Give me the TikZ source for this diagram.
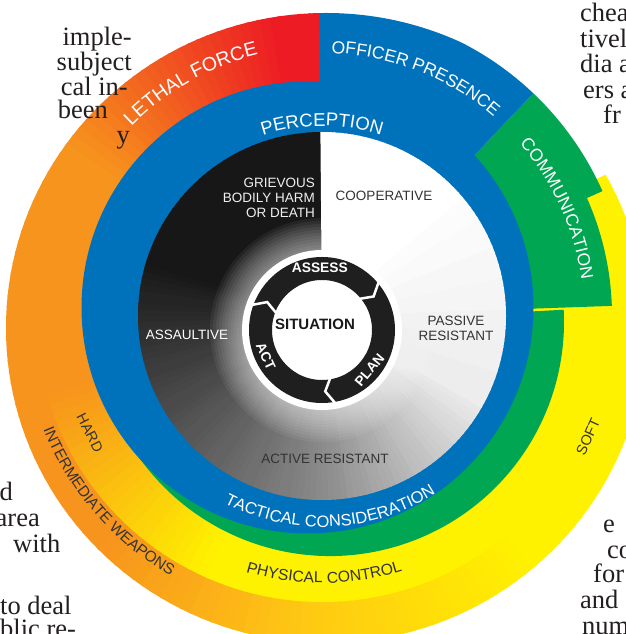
\documentclass[tikz,border=0pt]{standalone}
\usepackage{fontspec}
\setmainfont{Liberation Serif}
\setsansfont{Liberation Sans}
\usetikzlibrary{calc,decorations.text}

\definecolor{opblue}{RGB}{0,114,188}
\definecolor{comgreen}{RGB}{0,166,81}
\definecolor{inkgrey}{RGB}{51,51,51}
\definecolor{pageink}{RGB}{35,31,32}

\tikzset{
  pagetext/.style={font=\fontsize{26.5}{25}\selectfont, text=pageink, inner sep=0pt},
  disctext/.style={font=\sffamily\fontsize{13.5}{15}\selectfont, inner sep=0pt, align=center},
  bandtext/.style={font=\sffamily\fontsize{14.5}{14.5}\selectfont, text=inkgrey, inner sep=0pt},
  cycletext/.style={font=\sffamily\bfseries\fontsize{13.8}{13.8}\selectfont, text=white, inner sep=0pt},
}

\begin{document}
\begin{tikzpicture}[x=1pt, y=1pt]
\useasboundingbox (0,0) rectangle (625,634);
\fill[white] (0,0) rectangle (625,634);

\coordinate (c) at (322,318);      % subject disc
\coordinate (b) at (307.5,326.5);  % perception ring
\coordinate (g) at (330,312);      % communication ring
\coordinate (o) at (326,306);      % outer rim
\coordinate (k) at (322,304);      % assess-plan-act

% response bands
\begin{scope}
  \clip (o) ellipse [x radius=320, y radius=315];
  \foreach \a in {-270,-268,...,24} {
    \pgfmathsetmacro\tRed{max(0,min(1,(\a+262)/47))}
    \pgfmathsetmacro\tOr{max(0,min(1,(\a+135)/40))}
    \pgfmathsetmacro\tYe{max(0,min(1,(\a+95)/45))}
    \pgfmathtruncatemacro\cR{237+10*\tRed+8*\tOr}
    \pgfmathtruncatemacro\cG{28+120*\tRed+52*\tOr+42*\tYe}
    \pgfmathtruncatemacro\cB{36-7*\tRed-9*\tOr-20*\tYe}
    \definecolor{bandc}{RGB}{\cR,\cG,\cB}
    \fill[bandc] (c) -- ++(\a:420) arc[start angle=\a, end angle=\a+2.5, radius=420] -- cycle;
  }
  \foreach \a in {-200,-198,...,22} {
    \pgfmathsetmacro\tYe{max(0,min(1,(\a+165)/50))}
    \pgfmathtruncatemacro\cR{247+8*\tYe}
    \pgfmathtruncatemacro\cG{148+94*\tYe}
    \pgfmathtruncatemacro\cB{29-29*\tYe}
    \definecolor{bandc}{RGB}{\cR,\cG,\cB}
    \fill[bandc] (c) -- ++(\a:286) arc[start angle=\a, end angle=\a+2.5, radius=286] -- cycle;
  }
  \fill[comgreen] (g) -- ($(g)+(-160:234)$) arc[start angle=-160, end angle=3, radius=234] -- cycle;
  \fill[comgreen] (c) -- ($(c)+(2:290)$) arc[start angle=2, end angle=24, radius=290]
    -- ($(c)+(24:307)$) arc[start angle=24, end angle=46.5, radius=307] -- cycle;
  \fill[opblue] (c) -- ($(c)+(46.5:307)$) arc[start angle=46.5, end angle=90.5, radius=307] -- cycle;
\end{scope}
\fill[opblue] (b) circle (226);

% subject behaviour
\begin{scope}
  \clip (c) circle (184);
  \foreach \a in {90,92,...,448} {
    \pgfmathsetmacro\tA{max(0,min(1,(\a-160)/110))}
    \pgfmathsetmacro\tB{max(0,min(1,(\a-270)/60))}
    \pgfmathsetmacro\tCc{max(0,min(1,(\a-330)/70))}
    \pgfmathtruncatemacro\gv{9+46*\tA+38*\tB+7*\tCc}
    \fill[white!\gv!black] (c) -- ++(\a:190) arc[start angle=\a, end angle=\a+2.5, radius=190] -- cycle;
  }
  \foreach \r in {112,109,...,82}
    \fill[white, opacity=0.06] (k) circle (\r);
\end{scope}
\fill[white] (k) circle (80);
\draw[line width=23pt, black!88] (k) circle (61.5);
\foreach \g in {33,-87,153}
  \draw[white, line width=2.5pt] ($(k)+(\g+8:76)$) -- ($(k)+(\g:61.5)$) -- ($(k)+(\g+8:47)$);

\node[cycletext] (assess) at ($(k)+(92:62)$) {ASSESS};
\node[cycletext, rotate=50] (plan) at ($(k)+(-40:62)$) {PLAN};
\node[cycletext, rotate=-65] (act) at ($(k)+(-155:62)$) {ACT};
\node[font=\sffamily\bfseries\fontsize{15}{15}\selectfont, text=black!90, inner sep=0pt] (situation) at (315,310) {SITUATION};

\node[disctext, align=right, anchor=east, text=white!94!black] (grievous) at (315,436.5) {GRIEVOUS\\BODILY HARM\\OR DEATH};
\node[disctext, text=inkgrey] (cooperative) at (384,438) {COOPERATIVE};
\node[disctext, text=inkgrey] (passive) at (456,306) {PASSIVE\\RESISTANT};
\node[disctext, text=white] (assaultive) at (187,299) {ASSAULTIVE};
\node[disctext, text=inkgrey] (active) at (325,175) {ACTIVE RESISTANT};

% curved band labels
\path[decorate, decoration={text along path, text align=center, text color=white,
  text={|\sffamily\fontsize{18.5}{18.5}\selectfont|PERCEPTION}}]
  ($(c)+(150:190)$) arc[start angle=150, end angle=30, radius=190];
\path[decorate, decoration={text along path, text align=center, text color=white,
  text={|\sffamily\fontsize{16.5}{16.5}\selectfont|TACTICAL CONSIDERATION}}]
  ($(c)+(-140:211)$) arc[start angle=-140, end angle=-35, radius=211];
\path[decorate, decoration={text along path, text align=center, text color=white,
  text={|\sffamily\fontsize{17.5}{17.5}\selectfont|OFFICER PRESENCE}}]
  ($(c)+(108.6:263)$) arc[start angle=108.6, end angle=28.6, radius=263];
\path[decorate, decoration={text along path, text align=center, text color=white,
  text={|\sffamily\fontsize{19.5}{19.5}\selectfont|LETHAL FORCE}}]
  ($(c)+(159.4:269)$) arc[start angle=159.4, end angle=79.4, radius=269];
\path[decorate, decoration={text along path, text align=center, text color=white,
  text={|\sffamily\fontsize{17.5}{17.5}\selectfont|COMMUNICATION}}]
  ($(c)+(64.5:262)$) arc[start angle=64.5, end angle=-15.5, radius=262];
\path[decorate, decoration={text along path, text align=center, text color=inkgrey,
  text={|\sffamily\fontsize{15.7}{15.7}\selectfont|PHYSICAL CONTROL}}]
  ($(c)+(-140:267)$) arc[start angle=-140, end angle=-39, radius=267];
\path[decorate, decoration={text along path, text align=center, text color=inkgrey,
  text={|\sffamily\fontsize{15.4}{15.4}\selectfont|INTERMEDIATE WEAPONS}}]
  ($(c)+(-190:301)$) arc[start angle=-190, end angle=-88, radius=301];
\node[bandtext, rotate=-63] (hard) at (90,201) {HARD};
\node[bandtext, rotate=65.5] (soft) at (588,197) {SOFT};

% page text round the figure
\node[pagetext, anchor=base east] (l1) at (132,588) {imple-};
\node[pagetext, anchor=base east] (l2) at (132,563) {subject};
\node[pagetext, anchor=base east] (l3) at (128,538) {cal in-};
\node[pagetext, anchor=base east] (l4) at (108,515) {been};
\node[pagetext, anchor=base east] (l5) at (130,490) {y};
\node[pagetext, anchor=base west] (r1) at (580,612) {cheat};
\node[pagetext, anchor=base west] (r2) at (580,586) {tively};
\node[pagetext, anchor=base west] (r3) at (580,561) {dia a};
\node[pagetext, anchor=base west] (r4) at (583,535) {ers a};
\node[pagetext, anchor=base west] (r5) at (603,510) {fr};
\node[pagetext, anchor=base west] (s1) at (603,101) {e};
\node[pagetext, anchor=base west] (s2) at (607,75) {co};
\node[pagetext, anchor=base west] (s3) at (593,51) {for};
\node[pagetext, anchor=base west] (s4) at (580,25) {and};
\node[pagetext, anchor=base west] (s5) at (582,-1) {num};
\node[pagetext, anchor=base east] (t1) at (13,133) {d};
\node[pagetext, anchor=base east] (t2) at (40,107) {area};
\node[pagetext, anchor=base west] (t3) at (13,81) {with};
\node[pagetext, anchor=base west] (t4) at (0,19) {to deal};
\node[pagetext, anchor=base west] (t5) at (0,-4) {blic re-};
\end{tikzpicture}
\end{document}
